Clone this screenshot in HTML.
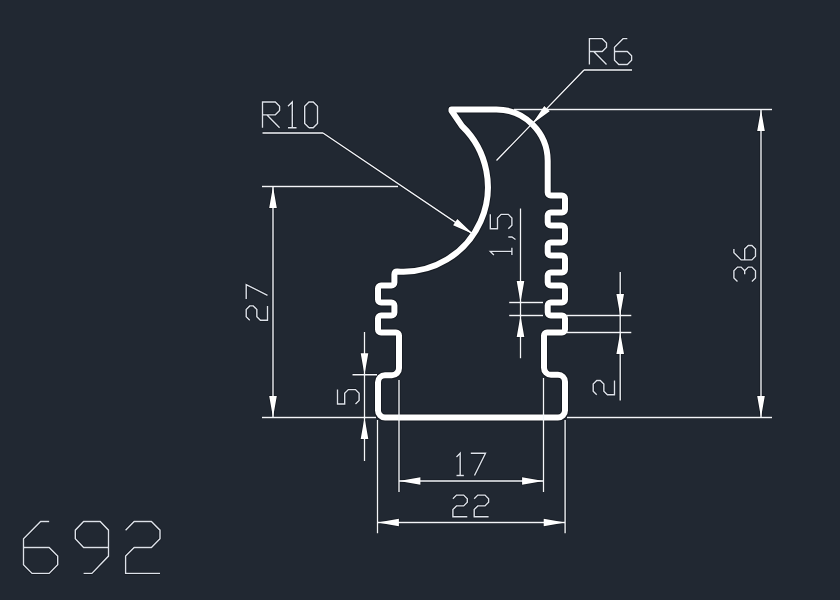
<!DOCTYPE html>
<html><head><meta charset="utf-8"><style>
html,body{margin:0;padding:0;background:#212832;width:840px;height:600px;overflow:hidden;}
svg{display:block;}
</style></head><body>
<svg width="840" height="600" viewBox="0 0 840 600">
<rect width="840" height="600" fill="#212832"/>
<g fill="none" stroke="#161b23" stroke-linejoin="round">
<path d="M451.5,109.5 L496.4,109.5 A51.3,51.3 0 0 1 547.7,160.8 L547.70,192.50 A3.00,3.00 0 0 0 550.70,195.50 L562.00,195.50 A3.00,3.00 0 0 1 565.00,198.50 L565.00,209.50 A3.00,3.00 0 0 1 562.00,212.50 L550.70,212.50 A3.00,3.00 0 0 0 547.70,215.50 L547.70,222.50 A3.00,3.00 0 0 0 550.70,225.50 L562.00,225.50 A3.00,3.00 0 0 1 565.00,228.50 L565.00,239.50 A3.00,3.00 0 0 1 562.00,242.50 L550.70,242.50 A3.00,3.00 0 0 0 547.70,245.50 L547.70,252.50 A3.00,3.00 0 0 0 550.70,255.50 L562.00,255.50 A3.00,3.00 0 0 1 565.00,258.50 L565.00,269.50 A3.00,3.00 0 0 1 562.00,272.50 L550.70,272.50 A3.00,3.00 0 0 0 547.70,275.50 L547.70,282.50 A3.00,3.00 0 0 0 550.70,285.50 L562.00,285.50 A3.00,3.00 0 0 1 565.00,288.50 L565.00,299.50 A3.00,3.00 0 0 1 562.00,302.50 L550.70,302.50 A3.00,3.00 0 0 0 547.70,305.50 L547.70,312.50 A3.00,3.00 0 0 0 550.70,315.50 L562.00,315.50 A3.00,3.00 0 0 1 565.00,318.50 L565.00,329.50 A3.00,3.00 0 0 1 562.00,332.50 L547.00,332.50 A3.00,3.00 0 0 0 544.00,335.50 L544.00,367.80 A7.00,7.00 0 0 0 551.00,374.80 L558.00,374.80 A7.00,7.00 0 0 1 565.00,381.80 L565.00,410.50 A7.00,7.00 0 0 1 558.00,417.50 L385.00,417.50 A7.00,7.00 0 0 1 378.00,410.50 L378.00,382.20 A7.00,7.00 0 0 1 385.00,375.20 L392.00,375.20 A7.00,7.00 0 0 0 399.00,368.20 L399.00,335.50 A3.00,3.00 0 0 0 396.00,332.50 L381.00,332.50 A3.00,3.00 0 0 1 378.00,329.50 L378.00,318.50 A3.00,3.00 0 0 1 381.00,315.50 L391.40,315.50 A3.00,3.00 0 0 0 394.40,312.50 L394.40,305.50 A3.00,3.00 0 0 0 391.40,302.50 L381.00,302.50 A3.00,3.00 0 0 1 378.00,299.50 L378.00,288.50 A3.00,3.00 0 0 1 381.00,285.50 L391.40,285.50 A3.00,3.00 0 0 0 394.40,282.50 L394.40,274.24 Q394.4,271.24 397.39,271.50 A84.7,84.7 0 0 0 461.96,126.00 L451.5,110.8 Z" stroke-width="8"/>
<path d="M761.0,109.5 L761.0,417.5 M514,109.5 L772,109.5 M567,417.5 L772,417.5 M273.0,186.5 L273.0,417.5 M262,186.5 L398,186.5 M262,417.5 L376,417.5 M364.5,332 L364.5,461 M352.5,374.7 L377,374.7 M399,481 L543.5,481 M399,380 L399,492 M543.5,378 L543.5,492 M377.5,522.5 L565.1,522.5 M377.5,420 L377.5,533.3 M565.1,420 L565.1,533.3 M520.5,208.5 L520.5,358.3 M509.2,302.5 L543,302.5 M509.2,315.5 L543,315.5 M620.2,272 L620.2,400.6 M567,315.5 L631.3,315.5 M567,332.5 L631.3,332.5 M262.5,133.0 L323,133.0 M323,133.0 L473,234.1 M584,70.0 L632,70.0 M584,70.0 L496.5,160.5" stroke-width="3"/>
<path d="M761.00,109.50 L764.80,130.90 L757.20,130.90 Z M761.00,417.50 L757.20,396.10 L764.80,396.10 Z M273.00,186.50 L276.80,207.90 L269.20,207.90 Z M273.00,417.50 L269.20,396.10 L276.80,396.10 Z M364.50,374.70 L360.70,353.30 L368.30,353.30 Z M364.50,417.50 L368.30,438.90 L360.70,438.90 Z M399.00,481.00 L420.40,477.20 L420.40,484.80 Z M543.50,481.00 L522.10,484.80 L522.10,477.20 Z M377.50,522.50 L398.90,518.70 L398.90,526.30 Z M565.10,522.50 L543.70,526.30 L543.70,518.70 Z M520.50,302.50 L516.70,281.10 L524.30,281.10 Z M520.50,315.50 L524.30,336.90 L516.70,336.90 Z M620.20,315.50 L616.40,294.10 L624.00,294.10 Z M620.20,332.50 L624.00,353.90 L616.40,353.90 Z M473.00,234.10 L453.12,225.31 L457.36,219.00 Z M532.10,123.96 L544.26,105.95 L549.72,111.23 Z" stroke-width="1.6"/>
<path d="M49.15,521.50 L40.60,521.50 L23.50,538.80 L23.50,564.75 L32.05,573.40 L49.15,573.40 L57.70,564.75 L57.70,556.10 L49.15,547.45 L23.50,547.45 M108.50,547.45 L83.60,547.45 L75.30,538.80 L75.30,530.15 L83.60,521.50 L100.20,521.50 L108.50,530.15 L108.50,556.10 L91.90,573.40 L83.60,573.40 M125.60,530.15 L134.20,521.50 L151.40,521.50 L160.00,530.15 L160.00,538.80 L151.40,547.45 L134.20,547.45 L125.60,556.10 L125.60,573.40 L160.00,573.40 M262.50,127.70 L262.50,102.02 L275.31,102.02 L279.58,106.30 L279.58,110.58 L275.31,114.86 L262.50,114.86 M266.77,114.86 L279.58,127.70 M288.00,106.30 L292.27,102.02 L292.27,127.70 M288.00,127.70 L296.54,127.70 M308.97,127.70 L304.70,123.42 L304.70,106.30 L308.97,102.02 L313.24,102.02 L317.51,106.30 L317.51,123.42 L313.24,127.70 L308.97,127.70 M589.40,64.50 L589.40,38.64 L602.24,38.64 L606.52,42.95 L606.52,47.26 L602.24,51.57 L589.40,51.57 M593.68,51.57 L606.52,64.50 M627.34,38.64 L623.06,38.64 L614.50,47.26 L614.50,60.19 L618.78,64.50 L627.34,64.50 L631.62,60.19 L631.62,55.88 L627.34,51.57 L614.50,51.57 M456.50,457.00 L460.18,453.30 L460.18,475.50 M456.50,475.50 L463.86,475.50 M470.80,453.30 L485.52,453.30 L474.48,475.50 M452.90,498.70 L456.50,495.10 L463.70,495.10 L467.30,498.70 L467.30,502.30 L463.70,505.90 L456.50,505.90 L452.90,509.50 L452.90,516.70 L467.30,516.70 M474.20,498.70 L477.80,495.10 L485.00,495.10 L488.60,498.70 L488.60,502.30 L485.00,505.90 L477.80,505.90 L474.20,509.50 L474.20,516.70 L488.60,516.70 M249.75,320.30 L246.20,316.70 L246.20,309.50 L249.75,305.90 L253.30,305.90 L256.85,309.50 L256.85,316.70 L260.40,320.30 L267.50,320.30 L267.50,305.90 M246.20,299.00 L246.20,284.60 L267.50,295.40 M737.50,281.50 L733.90,277.90 L733.90,270.70 L737.50,267.10 L741.10,267.10 L744.70,270.70 L748.30,267.10 L751.90,267.10 L755.50,270.70 L755.50,277.90 L751.90,281.50 M744.70,274.30 L744.70,270.70 M733.90,249.10 L733.90,252.70 L741.10,259.90 L751.90,259.90 L755.50,256.30 L755.50,249.10 L751.90,245.50 L748.30,245.50 L744.70,249.10 L744.70,259.90 M493.90,255.00 L490.30,251.40 L511.90,251.40 M511.90,255.00 L511.90,247.80 M508.30,237.00 L511.90,237.00 L515.50,239.52 M490.30,214.35 L490.30,228.75 L497.50,228.75 L497.50,217.95 L501.10,214.35 L508.30,214.35 L511.90,217.95 L511.90,225.15 L508.30,228.75 M337.50,389.60 L337.50,404.00 L344.70,404.00 L344.70,393.20 L348.30,389.60 L355.50,389.60 L359.10,393.20 L359.10,400.40 L355.50,404.00 M596.75,394.80 L593.20,391.22 L593.20,384.06 L596.75,380.48 L600.30,380.48 L603.85,384.06 L603.85,391.22 L607.40,394.80 L614.50,394.80 L614.50,380.48" stroke-width="3"/>
</g>
<path d="M451.5,109.5 L496.4,109.5 A51.3,51.3 0 0 1 547.7,160.8 L547.70,192.50 A3.00,3.00 0 0 0 550.70,195.50 L562.00,195.50 A3.00,3.00 0 0 1 565.00,198.50 L565.00,209.50 A3.00,3.00 0 0 1 562.00,212.50 L550.70,212.50 A3.00,3.00 0 0 0 547.70,215.50 L547.70,222.50 A3.00,3.00 0 0 0 550.70,225.50 L562.00,225.50 A3.00,3.00 0 0 1 565.00,228.50 L565.00,239.50 A3.00,3.00 0 0 1 562.00,242.50 L550.70,242.50 A3.00,3.00 0 0 0 547.70,245.50 L547.70,252.50 A3.00,3.00 0 0 0 550.70,255.50 L562.00,255.50 A3.00,3.00 0 0 1 565.00,258.50 L565.00,269.50 A3.00,3.00 0 0 1 562.00,272.50 L550.70,272.50 A3.00,3.00 0 0 0 547.70,275.50 L547.70,282.50 A3.00,3.00 0 0 0 550.70,285.50 L562.00,285.50 A3.00,3.00 0 0 1 565.00,288.50 L565.00,299.50 A3.00,3.00 0 0 1 562.00,302.50 L550.70,302.50 A3.00,3.00 0 0 0 547.70,305.50 L547.70,312.50 A3.00,3.00 0 0 0 550.70,315.50 L562.00,315.50 A3.00,3.00 0 0 1 565.00,318.50 L565.00,329.50 A3.00,3.00 0 0 1 562.00,332.50 L547.00,332.50 A3.00,3.00 0 0 0 544.00,335.50 L544.00,367.80 A7.00,7.00 0 0 0 551.00,374.80 L558.00,374.80 A7.00,7.00 0 0 1 565.00,381.80 L565.00,410.50 A7.00,7.00 0 0 1 558.00,417.50 L385.00,417.50 A7.00,7.00 0 0 1 378.00,410.50 L378.00,382.20 A7.00,7.00 0 0 1 385.00,375.20 L392.00,375.20 A7.00,7.00 0 0 0 399.00,368.20 L399.00,335.50 A3.00,3.00 0 0 0 396.00,332.50 L381.00,332.50 A3.00,3.00 0 0 1 378.00,329.50 L378.00,318.50 A3.00,3.00 0 0 1 381.00,315.50 L391.40,315.50 A3.00,3.00 0 0 0 394.40,312.50 L394.40,305.50 A3.00,3.00 0 0 0 391.40,302.50 L381.00,302.50 A3.00,3.00 0 0 1 378.00,299.50 L378.00,288.50 A3.00,3.00 0 0 1 381.00,285.50 L391.40,285.50 A3.00,3.00 0 0 0 394.40,282.50 L394.40,274.24 Q394.4,271.24 397.39,271.50 A84.7,84.7 0 0 0 461.96,126.00 L451.5,110.8 Z" fill="none" stroke="#ffffff" stroke-width="6" stroke-linejoin="round" stroke-linecap="round"/>
<path d="M761.0,109.5 L761.0,417.5 M514,109.5 L772,109.5 M567,417.5 L772,417.5 M273.0,186.5 L273.0,417.5 M262,186.5 L398,186.5 M262,417.5 L376,417.5 M364.5,332 L364.5,461 M352.5,374.7 L377,374.7 M399,481 L543.5,481 M399,380 L399,492 M543.5,378 L543.5,492 M377.5,522.5 L565.1,522.5 M377.5,420 L377.5,533.3 M565.1,420 L565.1,533.3 M520.5,208.5 L520.5,358.3 M509.2,302.5 L543,302.5 M509.2,315.5 L543,315.5 M620.2,272 L620.2,400.6 M567,315.5 L631.3,315.5 M567,332.5 L631.3,332.5 M262.5,133.0 L323,133.0 M323,133.0 L473,234.1 M584,70.0 L632,70.0 M584,70.0 L496.5,160.5" fill="none" stroke="#f4f6fa" stroke-width="1.35"/>
<path d="M761.00,109.50 L764.80,130.90 L757.20,130.90 Z M761.00,417.50 L757.20,396.10 L764.80,396.10 Z M273.00,186.50 L276.80,207.90 L269.20,207.90 Z M273.00,417.50 L269.20,396.10 L276.80,396.10 Z M364.50,374.70 L360.70,353.30 L368.30,353.30 Z M364.50,417.50 L368.30,438.90 L360.70,438.90 Z M399.00,481.00 L420.40,477.20 L420.40,484.80 Z M543.50,481.00 L522.10,484.80 L522.10,477.20 Z M377.50,522.50 L398.90,518.70 L398.90,526.30 Z M565.10,522.50 L543.70,526.30 L543.70,518.70 Z M520.50,302.50 L516.70,281.10 L524.30,281.10 Z M520.50,315.50 L524.30,336.90 L516.70,336.90 Z M620.20,315.50 L616.40,294.10 L624.00,294.10 Z M620.20,332.50 L624.00,353.90 L616.40,353.90 Z M473.00,234.10 L453.12,225.31 L457.36,219.00 Z M532.10,123.96 L544.26,105.95 L549.72,111.23 Z" fill="#ffffff"/>
<path d="M49.15,521.50 L40.60,521.50 L23.50,538.80 L23.50,564.75 L32.05,573.40 L49.15,573.40 L57.70,564.75 L57.70,556.10 L49.15,547.45 L23.50,547.45 M108.50,547.45 L83.60,547.45 L75.30,538.80 L75.30,530.15 L83.60,521.50 L100.20,521.50 L108.50,530.15 L108.50,556.10 L91.90,573.40 L83.60,573.40 M125.60,530.15 L134.20,521.50 L151.40,521.50 L160.00,530.15 L160.00,538.80 L151.40,547.45 L134.20,547.45 L125.60,556.10 L125.60,573.40 L160.00,573.40 M262.50,127.70 L262.50,102.02 L275.31,102.02 L279.58,106.30 L279.58,110.58 L275.31,114.86 L262.50,114.86 M266.77,114.86 L279.58,127.70 M288.00,106.30 L292.27,102.02 L292.27,127.70 M288.00,127.70 L296.54,127.70 M308.97,127.70 L304.70,123.42 L304.70,106.30 L308.97,102.02 L313.24,102.02 L317.51,106.30 L317.51,123.42 L313.24,127.70 L308.97,127.70 M589.40,64.50 L589.40,38.64 L602.24,38.64 L606.52,42.95 L606.52,47.26 L602.24,51.57 L589.40,51.57 M593.68,51.57 L606.52,64.50 M627.34,38.64 L623.06,38.64 L614.50,47.26 L614.50,60.19 L618.78,64.50 L627.34,64.50 L631.62,60.19 L631.62,55.88 L627.34,51.57 L614.50,51.57 M456.50,457.00 L460.18,453.30 L460.18,475.50 M456.50,475.50 L463.86,475.50 M470.80,453.30 L485.52,453.30 L474.48,475.50 M452.90,498.70 L456.50,495.10 L463.70,495.10 L467.30,498.70 L467.30,502.30 L463.70,505.90 L456.50,505.90 L452.90,509.50 L452.90,516.70 L467.30,516.70 M474.20,498.70 L477.80,495.10 L485.00,495.10 L488.60,498.70 L488.60,502.30 L485.00,505.90 L477.80,505.90 L474.20,509.50 L474.20,516.70 L488.60,516.70 M249.75,320.30 L246.20,316.70 L246.20,309.50 L249.75,305.90 L253.30,305.90 L256.85,309.50 L256.85,316.70 L260.40,320.30 L267.50,320.30 L267.50,305.90 M246.20,299.00 L246.20,284.60 L267.50,295.40 M737.50,281.50 L733.90,277.90 L733.90,270.70 L737.50,267.10 L741.10,267.10 L744.70,270.70 L748.30,267.10 L751.90,267.10 L755.50,270.70 L755.50,277.90 L751.90,281.50 M744.70,274.30 L744.70,270.70 M733.90,249.10 L733.90,252.70 L741.10,259.90 L751.90,259.90 L755.50,256.30 L755.50,249.10 L751.90,245.50 L748.30,245.50 L744.70,249.10 L744.70,259.90 M493.90,255.00 L490.30,251.40 L511.90,251.40 M511.90,255.00 L511.90,247.80 M508.30,237.00 L511.90,237.00 L515.50,239.52 M490.30,214.35 L490.30,228.75 L497.50,228.75 L497.50,217.95 L501.10,214.35 L508.30,214.35 L511.90,217.95 L511.90,225.15 L508.30,228.75 M337.50,389.60 L337.50,404.00 L344.70,404.00 L344.70,393.20 L348.30,389.60 L355.50,389.60 L359.10,393.20 L359.10,400.40 L355.50,404.00 M596.75,394.80 L593.20,391.22 L593.20,384.06 L596.75,380.48 L600.30,380.48 L603.85,384.06 L603.85,391.22 L607.40,394.80 L614.50,394.80 L614.50,380.48" fill="none" stroke="#dde2ea" stroke-width="1.4" stroke-linejoin="miter"/>
</svg>
</body></html>
